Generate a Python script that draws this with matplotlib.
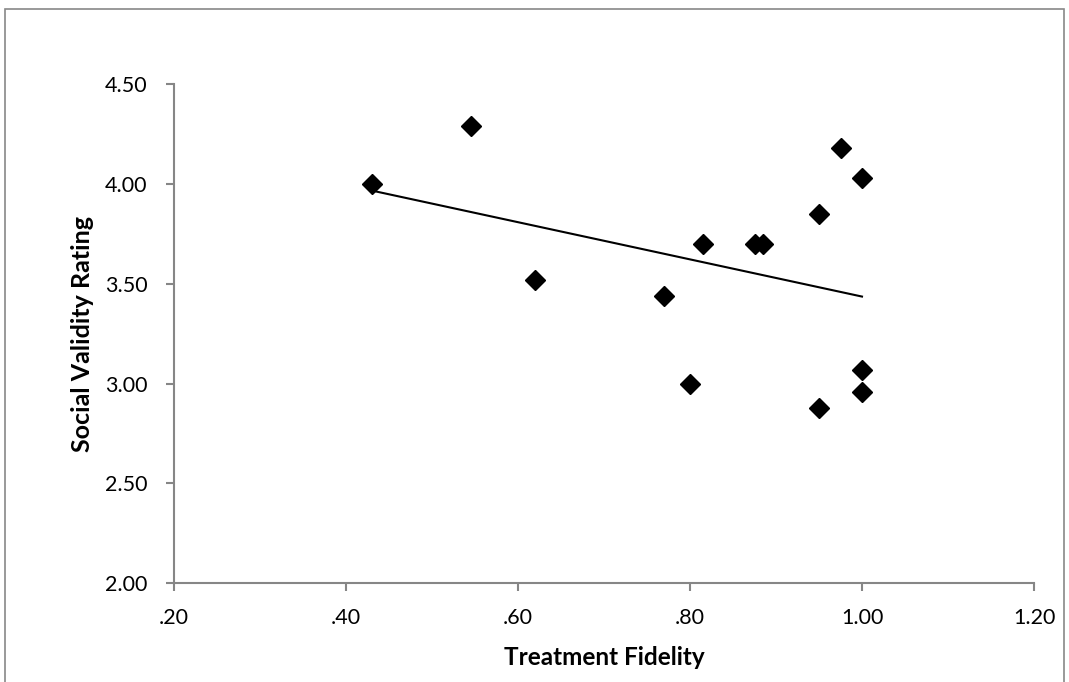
import numpy as np
import matplotlib
matplotlib.use("Agg")
import matplotlib.pyplot as plt
from matplotlib.patches import Rectangle

plt.rcParams['font.family'] = ['Lato', 'DejaVu Sans']

fidelity = [0.43, 0.545, 0.62, 0.77, 0.80, 0.815, 0.875, 0.885, 0.95, 0.95, 0.975, 1.00, 1.00, 1.00]
rating = [4.00, 4.29, 3.52, 3.44, 3.00, 3.70, 3.70, 3.70, 3.85, 2.88, 4.18, 4.03, 3.07, 2.96]
x_ticks = [0.20, 0.40, 0.60, 0.80, 1.00, 1.20]
x_tick_labels = [".20", ".40", ".60", ".80", "1.00", "1.20"]
y_ticks = [2.00, 2.50, 3.00, 3.50, 4.00, 4.50]
y_tick_labels = ["2.00", "2.50", "3.00", "3.50", "4.00", "4.50"]

fig = plt.figure(figsize=(10.69, 6.82), dpi=100)
fig.patches.append(Rectangle((5/1069, -0.01), 1059/1069, 1 - 9/682 + 0.01,
                             transform=fig.transFigure, fill=False,
                             edgecolor='#888888', linewidth=1.2))
ax = fig.add_axes([174/1069, (682-583.3)/682, 860/1069, 499.3/682])

x = np.array(fidelity)
y = np.array(rating)
slope, intercept = np.polyfit(x, y, 1)
xs = np.array([x.min(), x.max()])
ax.plot(xs, slope*xs + intercept, color='black', linewidth=1.5, zorder=2)
ax.plot(x, y, linestyle='none', marker='D', markersize=10.5, color='black', zorder=3)

ax.set_xlim(0.2, 1.2)
ax.set_ylim(2.0, 4.5)
ax.set_xticks(x_ticks)
ax.set_xticklabels(x_tick_labels)
ax.set_yticks(y_ticks)
ax.set_yticklabels(y_tick_labels)
for s in ['top', 'right']:
    ax.spines[s].set_visible(False)
for s in ['left', 'bottom']:
    ax.spines[s].set_color('#868686')
    ax.spines[s].set_linewidth(1.5)
ax.tick_params(axis='both', direction='out', length=6, width=1.5, color='#868686',
               labelsize=15.5, labelcolor='black')
ax.tick_params(axis='y', pad=13)
ax.tick_params(axis='x', pad=12)
ax.set_xlabel('Treatment Fidelity', fontsize=17.5, fontweight='bold', labelpad=13)
ax.set_ylabel('Social Validity Rating', fontsize=18, fontweight='bold', labelpad=8)

fig.savefig('out.png', dpi=100)
